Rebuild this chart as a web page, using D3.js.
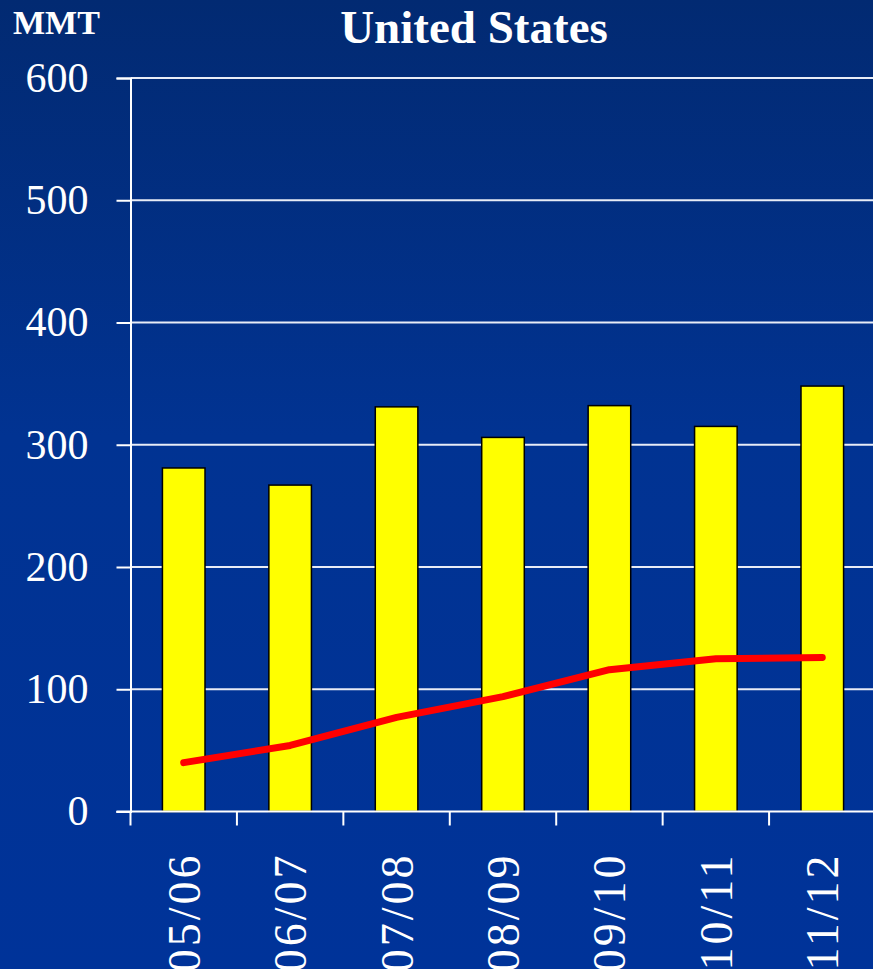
<!DOCTYPE html>
<html>
<head>
<meta charset="utf-8">
<script src="https://cdn.jsdelivr.net/npm/d3@7"></script>
<style>
  html, body { margin: 0; padding: 0; background: #003399; }
  svg { display: block; }
  text { font-family: "Liberation Serif", "DejaVu Serif", serif; fill: #fff; }
</style>
</head>
<body>
<div id="chart"></div>
<script>
const seasons = ['05/06', '06/07', '07/08', '08/09', '09/10', '10/11', '11/12'];
const barValues = [281, 267, 331, 306, 332, 315, 348];
const lineValues = [40, 54, 77, 94, 116, 125, 126];
const yTicks = [0, 100, 200, 300, 400, 500, 600];

const W = 873, H = 969;
const plot = { left: 130.5, right: 875.5, top: 78, bottom: 811.5 };

const svg = d3.select('#chart').append('svg')
  .attr('width', W)
  .attr('height', H);

const grad = svg.append('defs').append('linearGradient')
  .attr('id', 'bg')
  .attr('x1', 0).attr('y1', 0).attr('x2', 0).attr('y2', 1);
grad.append('stop').attr('offset', '0%').attr('stop-color', '#022a72');
grad.append('stop').attr('offset', '45%').attr('stop-color', '#013392');
grad.append('stop').attr('offset', '100%').attr('stop-color', '#003399');

svg.append('rect')
  .attr('width', W)
  .attr('height', H)
  .attr('fill', 'url(#bg)');

const x = d3.scaleBand()
  .domain(seasons)
  .range([plot.left, plot.right])
  .paddingInner(0.6)
  .paddingOuter(0.3);

const y = d3.scaleLinear()
  .domain([0, 600])
  .range([plot.bottom, plot.top]);

// grid lines
svg.append('g')
  .selectAll('line')
  .data(yTicks.filter(d => d > 0))
  .enter()
  .append('line')
  .attr('x1', plot.left)
  .attr('x2', W)
  .attr('y1', d => y(d))
  .attr('y2', d => y(d))
  .attr('stroke', '#e8ecf6')
  .attr('stroke-width', 2);

// bars
svg.append('g')
  .selectAll('rect')
  .data(barValues)
  .enter()
  .append('rect')
  .attr('x', (d, i) => x(seasons[i]))
  .attr('width', x.bandwidth())
  .attr('y', d => y(d))
  .attr('height', d => plot.bottom - y(d))
  .attr('fill', '#ffff00')
  .attr('stroke', '#000')
  .attr('stroke-width', 1.5);

// y axis
const yAxis = svg.append('g')
  .attr('transform', `translate(${plot.left},0)`)
  .call(d3.axisLeft(y).tickValues(yTicks).tickSize(14).tickPadding(28));
yAxis.select('.domain').attr('stroke', '#fff').attr('stroke-width', 2);
yAxis.selectAll('.tick line').attr('stroke', '#fff').attr('stroke-width', 2);
yAxis.selectAll('.tick text')
  .style('font-family', '"Liberation Serif", serif')
  .attr('font-size', 42)
  .attr('fill', '#fff');

// x axis
const band = d3.scalePoint().domain(d3.range(seasons.length + 1)).range([plot.left, plot.right]);
const xAxis = svg.append('g')
  .attr('transform', `translate(0,${plot.bottom})`);
xAxis.append('line')
  .attr('x1', plot.left - 14)
  .attr('x2', W)
  .attr('stroke', '#fff')
  .attr('stroke-width', 2);
xAxis.selectAll('line.tk')
  .data(band.domain())
  .enter()
  .append('line')
  .attr('class', 'tk')
  .attr('x1', d => band(d))
  .attr('x2', d => band(d))
  .attr('y1', 0)
  .attr('y2', 14)
  .attr('stroke', '#fff')
  .attr('stroke-width', 2);
xAxis.selectAll('text')
  .data(seasons)
  .enter()
  .append('text')
  .attr('transform', d => `translate(${x(d) + x.bandwidth() / 2 + 16},41) rotate(-90)`)
  .attr('text-anchor', 'end')
  .attr('font-size', 46)
  .attr('letter-spacing', 3)
  .text(d => d);

// red line
const line = d3.line()
  .x((d, i) => x(seasons[i]) + x.bandwidth() / 2)
  .y(d => y(d));
svg.append('path')
  .datum(lineValues)
  .attr('d', line)
  .attr('fill', 'none')
  .attr('stroke', '#ff0000')
  .attr('stroke-width', 7)
  .attr('stroke-linecap', 'round')
  .attr('stroke-linejoin', 'round');

// titles
svg.append('text')
  .attr('x', 474)
  .attr('y', 43)
  .attr('text-anchor', 'middle')
  .attr('font-weight', 'bold')
  .attr('font-size', 47)
  .text('United States');

svg.append('text')
  .attr('x', 13)
  .attr('y', 34)
  .attr('font-weight', 'bold')
  .attr('font-size', 34)
  .text('MMT');
</script>
</body>
</html>
